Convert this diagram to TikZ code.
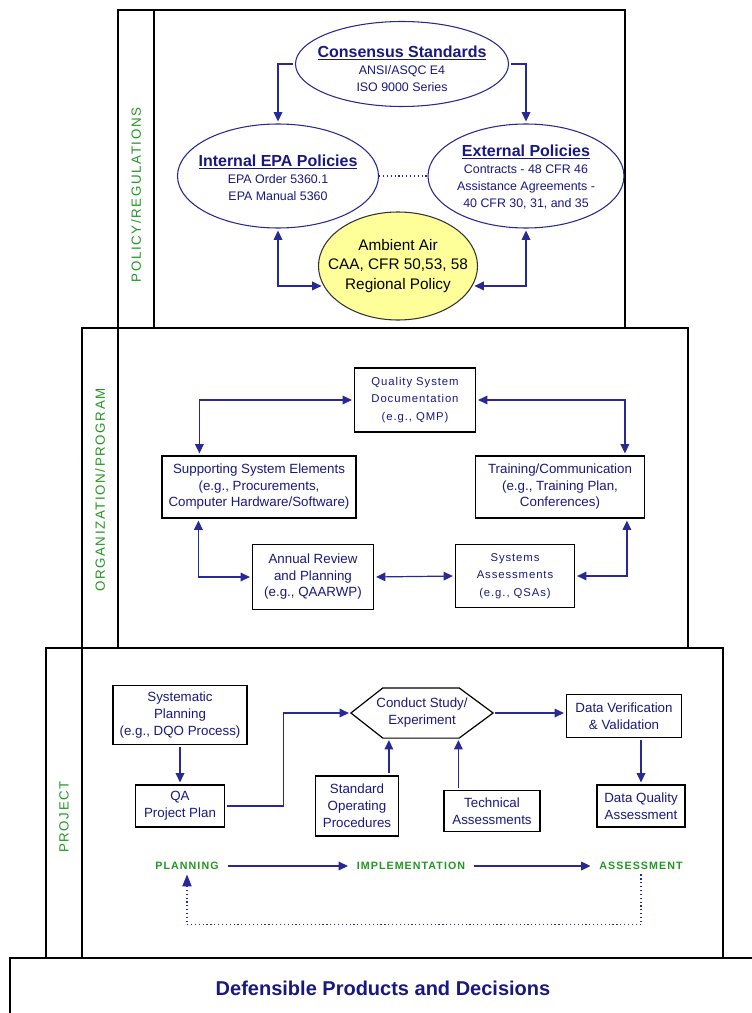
\documentclass[tikz,border=0pt]{standalone}
\usepackage{fontspec}
\setmainfont{Liberation Sans}
\newfontfamily\bandfont[LetterSpace=12]{Liberation Sans}
\newfontfamily\phasefont[LetterSpace=10]{Liberation Sans}
\newfontfamily\spacedfont[LetterSpace=8]{Liberation Sans}
\usetikzlibrary{shapes.geometric,arrows.meta,calc}
\definecolor{navy}{RGB}{24,24,128}
\definecolor{linkblue}{RGB}{40,40,150}
\definecolor{bandgreen}{RGB}{34,150,34}
\definecolor{airyellow}{RGB}{255,255,153}
\newcommand\polhead[1]{{\fontsize{12}{15}\selectfont\bfseries\underline{#1}}}
\begin{document}
\begin{tikzpicture}[x=0.75pt,y=-0.75pt,
    >={Triangle[length=7pt,width=6.5pt]},
    frame/.style={draw=black,line width=0.8pt},
    band/.style={rotate=90,text=bandgreen,font=\bandfont\fontsize{10}{12}\selectfont},
    policy/.style={ellipse,draw=linkblue,line width=0.8pt,inner sep=0pt},
    policytext/.style={text=navy,align=center,inner sep=0pt,font=\fontsize{9.3}{12.8}\selectfont},
    orgbox/.style={rectangle,draw=black,line width=0.9pt,text=navy,align=center,inner sep=0pt,font=\fontsize{10}{12.4}\selectfont},
    spaced/.style={font=\spacedfont\fontsize{8.5}{13}\selectfont},
    projbox/.style={orgbox,font=\fontsize{10}{12.8}\selectfont},
    phase/.style={text=bandgreen,inner xsep=5pt,font=\phasefont\bfseries\fontsize{8}{10}\selectfont},
    link/.style={draw=linkblue,line width=0.9pt,shorten >=1.5pt,shorten <=1.5pt}]
\useasboundingbox (0,0) rectangle (752,1013);
\draw[frame] (118,10) rectangle (625,328) (154,10) -- (154,328);
\draw[frame] (82,328) rectangle (688,648) (118,328) -- (118,648);
\draw[frame] (46,648) rectangle (723,958) (82,648) -- (82,958);
\draw[frame] (10,1013) -- (10,958) -- (752,958);
\node[band] (polband) at (136,195) {POLICY/REGULATIONS};
\node[band] (orgband) at (100,490) {ORGANIZATION/PROGRAM};
\node[band] (projband) at (64,817) {PROJECT};

\node[policy,minimum width=0.75*213pt,minimum height=0.75*85pt] (cons) at (402,64) {};
\node[policytext] (constext) at (402,69) {\polhead{Consensus Standards}\\ANSI/ASQC E4\\ISO 9000 Series};
\node[policy,minimum width=0.75*201pt,minimum height=0.75*104pt] (intl) at (278,176) {};
\node[policytext] (intltext) at (278,178) {\polhead{Internal EPA Policies}\\EPA Order 5360.1\\EPA Manual 5360};
\node[policy,minimum width=0.75*196pt,minimum height=0.75*104pt] (extl) at (526,176) {};
\node[policytext] (extltext) at (526,177) {\polhead{External Policies}\\Contracts - 48 CFR 46\\Assistance Agreements -\\40 CFR 30, 31, and 35};
\node[ellipse,draw=black!80,fill=airyellow,line width=0.8pt,inner sep=0pt,minimum width=0.75*159pt,minimum height=0.75*108pt] (air) at (398,266) {};
\node[align=center,inner sep=0pt,font=\fontsize{11.5}{14.5}\selectfont] (airtext) at (air) {Ambient Air\\CAA, CFR 50,53, 58\\Regional Policy};
\draw[link,->] (cons.west) -| (intl.north);
\draw[link,->] (cons.east) -| (extl.north);
\draw[link,<->] (intl.south) |- (air.195);
\draw[link,<->] (extl.south) |- (air.-15);
\draw[linkblue,dotted,line width=0.9pt] (intl.east) -- (extl.west);

\node[orgbox,spaced,minimum width=0.75*121pt,minimum height=0.75*64pt] (qsd) at (415,400) {Quality System\\Documentation\\(e.g., QMP)};
\node[orgbox,minimum width=0.75*194pt,minimum height=0.75*62pt] (supp) at (259,487) {Supporting System Elements\\(e.g., Procurements,\\Computer Hardware/Software)};
\node[orgbox,minimum width=0.75*169pt,minimum height=0.75*62pt] (train) at (560,487) {Training/Communication\\(e.g., Training Plan,\\Conferences)};
\node[orgbox,minimum width=0.75*121pt,minimum height=0.75*65pt] (review) at (313,577) {Annual Review\\and Planning\\(e.g., QAARWP)};
\node[orgbox,spaced,minimum width=0.75*119pt,minimum height=0.75*63pt] (sysassess) at (515,576) {Systems\\Assessments\\(e.g., QSAs)};
\draw[link,<->] (qsd.west) -| ($(supp.north west)+(38,0)$);
\draw[link,<->] (qsd.east) -| ($(train.north west)+(150,0)$);
\draw[link,<->] ($(supp.south west)+(37,0)$) |- (review.west);
\draw[link,<->] (review.east) -- (sysassess.west);
\draw[link,<->] (sysassess.east) -| ($(train.south west)+(152,0)$);

\node[projbox,minimum width=0.75*134pt,minimum height=0.75*59pt] (sysplan) at (180,715) {Systematic\\Planning\\(e.g., DQO Process)};
\node[projbox,minimum width=0.75*89pt,minimum height=0.75*42pt] (qapp) at (180,806) {QA\\Project Plan};
\node[projbox,draw=none,minimum width=0.75*141pt,minimum height=0.75*49pt] (study) at (422,713) {Conduct Study/\\Experiment};
\draw[line width=0.9pt] (study.west) -- ($(study.north west)+(32,0)$) -- ($(study.north east)+(-34,0)$) -- (study.east) -- ($(study.south east)+(-34,0)$) -- ($(study.south west)+(32,0)$) -- cycle;
\node[projbox,minimum width=0.75*115pt,minimum height=0.75*43pt] (verify) at (624,716) {Data Verification\\\& Validation};
\node[projbox,minimum width=0.75*88pt,minimum height=0.75*42pt] (dqa) at (641,806) {Data Quality\\Assessment};
\node[projbox,minimum width=0.75*83pt,minimum height=0.75*60pt] (sop) at (357,806) {Standard\\Operating\\Procedures};
\node[projbox,minimum width=0.75*96pt,minimum height=0.75*41pt] (techassess) at (492,811) {Technical\\Assessments};
\coordinate (sopout) at ($(sop.north west)+(74,0)$);
\coordinate (techout) at ($(techassess.north west)+(15,0)$);
\draw[link,->] (sysplan) -- (qapp);
\draw[link,->] (qapp.east) -- ++(58,0) |- (study.west);
\draw[link,->] (study.east) -- (study.east -| verify.west);
\draw[link,->] (verify.south -| dqa.north) -- (dqa.north);
\draw[link,->] (sopout) -- (sopout |- study.south);
\draw[link,->] (techout) -- (techout |- study.south);

\node[phase] (plan) at (187,866) {PLANNING};
\node[phase] (impl) at (411,866) {IMPLEMENTATION};
\node[phase] (assess) at (641,866) {ASSESSMENT};
\draw[link,->] (plan) -- (impl);
\draw[link,->] (impl) -- (assess);
\draw[linkblue,dotted,line width=0.9pt,-{Triangle[length=9pt,width=7pt]}] (assess.south) -- ++(0,50) -| (plan.south);

\node[text=navy,font=\fontsize{15}{18}\selectfont\bfseries] (verdict) at (383,988) {Defensible Products and Decisions};
\end{tikzpicture}
\end{document}
